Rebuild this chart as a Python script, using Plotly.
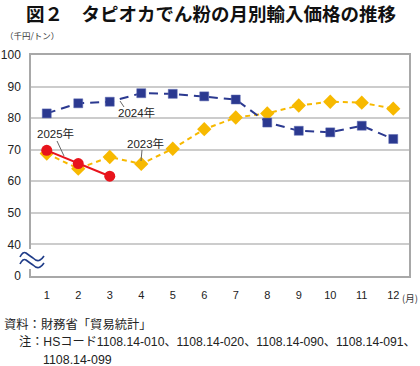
import plotly.graph_objects as go

months = list(range(1, 13))
y2023 = [68.8, 64.0, 67.7, 65.5, 70.3, 76.5, 80.2, 81.5, 84.0, 85.2, 84.9, 83.0]
y2024 = [81.5, 84.7, 85.2, 87.9, 87.7, 86.9, 85.9, 78.6, 76.0, 75.5, 77.6, 73.4]
m2025 = [1, 2, 3]
y2025 = [69.8, 65.6, 61.6]

ytickvals = [30, 40, 50, 60, 70, 80, 90, 100]
yticktext = ["0", "40", "50", "60", "70", "80", "90", "100"]

W, H = 420, 366
L, R, T, B = 31, 11, 55, 90
PW, PH = W - L - R, H - T - B

def px(x):
    return (x - L) / PW

def py(y):
    return (H - B - y) / PH

FONT = "Arial, Liberation Sans, Noto Sans CJK JP"
JFONT = "Noto Sans CJK JP"

navy = "#2b3990"
gold = "#f7b900"
red = "#e8141c"

fig = go.Figure()
fig.add_trace(go.Scatter(x=months, y=y2023, mode="lines+markers",
                         line=dict(color=gold, width=2, dash="5px,4px"),
                         marker=dict(symbol="diamond", size=11, color=gold),
                         showlegend=False))
fig.add_trace(go.Scatter(x=months, y=y2024, mode="lines+markers",
                         line=dict(color=navy, width=2, dash="9px,6px"),
                         marker=dict(symbol="square", size=9, color=navy,
                                     line=dict(color="#5c68b0", width=0.5)),
                         showlegend=False))
fig.add_trace(go.Scatter(x=m2025, y=y2025, mode="lines+markers",
                         line=dict(color=red, width=2),
                         marker=dict(symbol="circle", size=11, color=red),
                         showlegend=False))

fig.update_xaxes(range=[0.5, 12.5], tickvals=months, ticks="", showgrid=False,
                 showline=True, mirror=True, linecolor="#a8a8a8", linewidth=1.5,
                 tickfont=dict(family=FONT, size=11, color="#222"),
                 ticklabelstandoff=8, zeroline=False, fixedrange=True, automargin=False)
fig.update_yaxes(range=[30, 100], tickvals=ytickvals, ticktext=yticktext, ticks="",
                 showgrid=True, gridcolor="#cccccc", gridwidth=1.5,
                 showline=True, mirror=True, linecolor="#a8a8a8", linewidth=1.5,
                 tickfont=dict(family=FONT, size=12, color="#222"),
                 ticklabelstandoff=6, zeroline=False, fixedrange=True, automargin=False)

anns = [
    dict(text="<b>図２　タピオカでん粉の月別輸入価格の推移</b>", x=px(211), y=py(13),
         font=dict(family=JFONT, size=18.5, color="#111"), xanchor="center", yanchor="middle"),
    dict(text="（千円/トン）", x=px(3), y=py(35),
         font=dict(family=JFONT, size=8.5, color="#333"), xanchor="left", yanchor="middle"),
    dict(text="(月)", x=px(420), y=py(298),
         font=dict(family=JFONT, size=9.5, color="#333"), xanchor="right", yanchor="middle"),
    dict(text="2024年", x=px(136), y=py(112),
         font=dict(family=FONT, size=11.5, color="#222"), xanchor="center", yanchor="middle"),
    dict(text="2023年", x=px(145), y=py(143),
         font=dict(family=FONT, size=11.5, color="#222"), xanchor="center", yanchor="middle"),
    dict(text="2025年", x=px(55), y=py(133),
         font=dict(family=FONT, size=11.5, color="#222"), xanchor="center", yanchor="middle"),
    dict(text="資料：財務省「貿易統計」", x=px(2), y=py(324),
         font=dict(family=JFONT, size=12.3, color="#222"), xanchor="left", yanchor="middle"),
    dict(text="注：HSコード1108.14-010、1108.14-020、1108.14-090、1108.14-091、",
         x=px(17), y=py(342),
         font=dict(family=FONT, size=12.2, color="#222"), xanchor="left", yanchor="middle"),
    dict(text="1108.14-099", x=px(41), y=py(360),
         font=dict(family=FONT, size=12.4, color="#222"), xanchor="left", yanchor="middle"),
]
for a in anns:
    a.update(xref="paper", yref="paper", showarrow=False)

def pline(x0, y0, x1, y1, color="#666", width=1):
    return dict(type="line", xref="paper", yref="paper",
                x0=px(x0), y0=py(y0), x1=px(x1), y1=py(y1),
                line=dict(color=color, width=width), layer="above")

def wave(y):
    p = "M %f,%f" % (px(20), py(y))
    p += " Q %f,%f %f,%f" % (px(23), py(y - 6), px(26), py(y - 4))
    p += " Q %f,%f %f,%f" % (px(30), py(y - 1), px(33), py(y + 1))
    p += " Q %f,%f %f,%f" % (px(37), py(y + 5), px(40), py(y + 3))
    p += " Q %f,%f %f,%f" % (px(42), py(y + 2), px(44), py(y - 1))
    return dict(type="path", xref="paper", yref="paper", path=p,
                line=dict(color="#1f3c88", width=1.6), layer="above")

shapes = [
    dict(type="rect", xref="paper", yref="paper", x0=px(29), x1=px(33),
         y0=py(249), y1=py(269), fillcolor="white", line=dict(width=0), layer="above"),
    wave(257),
    wave(264),
    pline(120, 101, 124, 107),
    pline(142, 150, 141, 161),
    pline(57, 141, 64, 156),
]

fig.update_layout(width=W, height=H, margin=dict(l=L, r=R, t=T, b=B, autoexpand=False),
                  paper_bgcolor="white", plot_bgcolor="white",
                  annotations=anns, shapes=shapes, showlegend=False)

fig.write_html("out.html", config={"responsive": False, "displayModeBar": False},
               post_script="document.body.style.margin='0';document.body.style.overflow='hidden';")
